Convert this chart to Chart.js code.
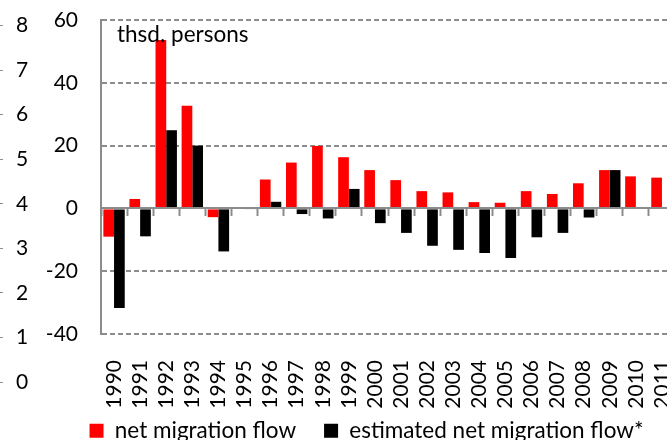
<!DOCTYPE html>
<html>
<head>
<meta charset="utf-8">
<script src="https://cdn.jsdelivr.net/npm/chart.js@4.4.1/dist/chart.umd.min.js"></script>
<style>
  html, body { margin: 0; padding: 0; background: #fff; }
  #wrap { position: relative; width: 667px; height: 440px; overflow: hidden; }
  #sideChart { position: absolute; left: -20px; top: 0; }
  #mainChart { position: absolute; left: 0; top: 0; }
</style>
</head>
<body>
<div id="wrap">
  <canvas id="sideChart" width="60" height="440"></canvas>
  <canvas id="mainChart" width="733" height="452"></canvas>
</div>
<script>
const years = ["1990", "1991", "1992", "1993", "1994", "1995", "1996", "1997", "1998", "1999", "2000",
  "2001", "2002", "2003", "2004", "2005", "2006", "2007", "2008", "2009", "2010", "2011"];
const netMigration = [-9.0, 3.0, 53.6, 32.7, -2.8, 0, 9.2, 14.6, 19.9, 16.3, 12.2,
  9.0, 5.5, 5.1, 2.0, 1.8, 5.5, 4.6, 8.0, 12.2, 10.2, 9.8];
const estimatedNetMigration = [-31.7, -8.9, 24.9, 20.0, -13.7, -0.3, 2.1, -1.8, -3.2, 6.2, -4.7,
  -7.8, -11.9, -13.2, -14.2, -15.8, -9.2, -7.8, -2.9, 12.2, null, null];
const yTicks = [-40, -20, 0, 20, 40, 60];
const sideTicks = [0, 1, 2, 3, 4, 5, 6, 7, 8];
const unitText = "thsd. persons";

const grey = "#8c8c8c";
const numFont = { family: "Lato", size: 21 };
const textFont = { family: "Lato", size: 22.5 };

const unitLabel = {
  id: "unitLabel",
  afterLayout(chart) {
    // let the rotated year labels run into the legend's top padding, as in the original
    chart.scales.x2.bottom = chart.height;
  },
  afterDatasetsDraw(chart) {
    const { ctx, chartArea } = chart;
    ctx.save();
    ctx.font = `${textFont.size}px ${textFont.family}`;
    ctx.fillStyle = "#000";
    ctx.textBaseline = "alphabetic";
    ctx.fillText(unitText, chartArea.left + 16, chartArea.top + 22);
    ctx.restore();
  },
};

// cut-off axis of the neighbouring chart on the left
new Chart(document.getElementById("sideChart"), {
  type: "bar",
  data: { labels: [], datasets: [] },
  options: {
    responsive: false, animation: false,
    layout: { padding: { top: 23, bottom: 58, left: 0, right: 0 } },
    scales: {
      x: { display: false },
      y: {
        position: "right", min: sideTicks[0], max: sideTicks[sideTicks.length - 1],
        afterBuildTicks: (s) => { s.ticks = sideTicks.map((v) => ({ value: v })); },
        afterFit: (s) => { s.width = 40; },
        grid: { drawOnChartArea: false, tickLength: 3, tickWidth: 1, tickColor: grey },
        border: { display: false },
        ticks: { padding: 13, color: "#000", font: numFont },
      },
    },
    plugins: { legend: { display: false }, tooltip: { enabled: false } },
  },
});

new Chart(document.getElementById("mainChart"), {
  type: "bar",
  data: {
    labels: years,
    datasets: [
      { label: "net migration flow", data: netMigration, backgroundColor: "#ff0000" },
      { label: "estimated net migration flow*", data: estimatedNetMigration, backgroundColor: "#000000" },
    ],
  },
  options: {
    responsive: false, animation: false,
    layout: { padding: { left: 0, right: 0, top: 20, bottom: 0 } },
    datasets: { bar: { barPercentage: 1, categoryPercentage: 0.82 } },
    scales: {
      x: {
        position: { y: 0 },
        grid: { drawOnChartArea: false, offset: true, tickLength: 7, tickWidth: 2, tickColor: grey },
        border: { color: grey, width: 2, z: 1 },
        ticks: { display: false },
      },
      x2: {
        type: "category", labels: years, position: "bottom",
        grid: { display: false }, border: { display: false },
        afterFit: (s) => { s.height = 57.5; },
        ticks: { autoSkip: false, maxRotation: 90, minRotation: 90, padding: 18, color: "#000", font: numFont },
      },
      y: {
        min: yTicks[0], max: yTicks[yTicks.length - 1],
        afterBuildTicks: (s) => { s.ticks = yTicks.map((v) => ({ value: v })); },
        afterFit: (s) => { s.width = 101; s.paddingTop = 0; s.paddingBottom = 0; },
        grid: {
          drawTicks: false, lineWidth: 2,
          color: (c) => (c.tick && c.tick.value === 0 ? "rgba(0,0,0,0)" : grey),
        },
        border: { color: grey, width: 2, dash: [5, 3] },
        ticks: { padding: 23, color: "#000", font: numFont },
      },
      // empty space right of the plot (the original continues past the crop)
      yPad: {
        type: "linear", position: "right",
        grid: { display: false }, border: { display: false }, ticks: { display: false },
        afterFit: (s) => { s.width = 58; },
      },
    },
    plugins: {
      legend: {
        position: "bottom", align: "center",
        labels: { boxWidth: 14, boxHeight: 14, padding: 28, color: "#000", font: textFont },
      },
      tooltip: { enabled: false },
    },
  },
  plugins: [unitLabel],
});
</script>
</body>
</html>
